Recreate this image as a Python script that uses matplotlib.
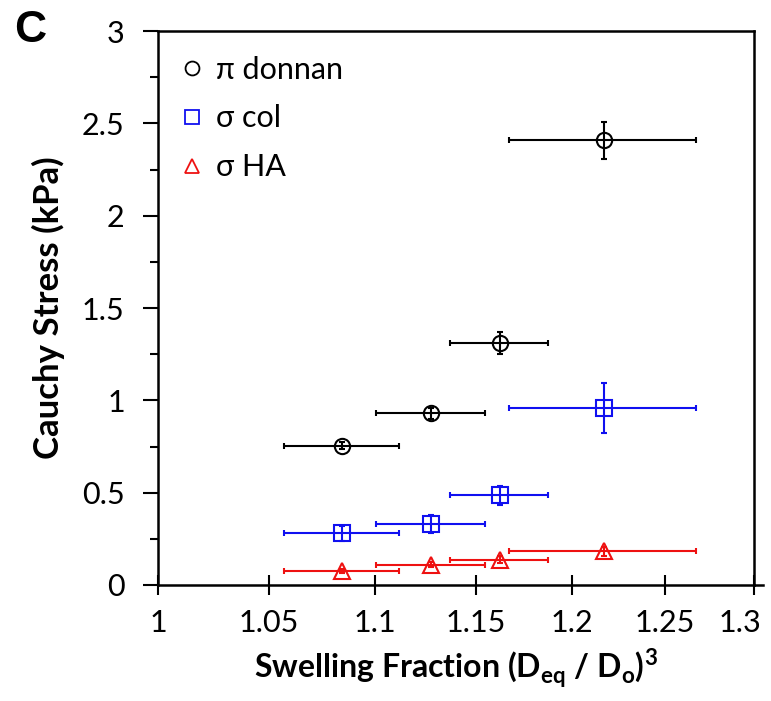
import numpy as np
import matplotlib
matplotlib.use("Agg")
import matplotlib.pyplot as plt
from matplotlib.lines import Line2D
from matplotlib.ticker import FixedLocator, NullLocator, MultipleLocator
from matplotlib.transforms import ScaledTranslation

plt.rcParams['font.family'] = ['Lato', 'DejaVu Sans']
plt.rcParams['mathtext.fontset'] = 'custom'
plt.rcParams['mathtext.rm'] = 'Lato'
plt.rcParams['mathtext.bf'] = 'Lato:bold'

#%% data
swelling = [1.0845, 1.1276, 1.1623, 1.217]
swelling_err = [0.0275, 0.027, 0.025, 0.05]

donnan = [0.755, 0.93, 1.31, 2.41]
donnan_err = [0.018, 0.03, 0.06, 0.1]

col = [0.28, 0.33, 0.485, 0.96]
col_err = [0.04, 0.048, 0.05, 0.135]

ha = [0.075, 0.11, 0.138, 0.182]
ha_err = [0.012, 0.015, 0.02, 0.025]

xticks = [1, 1.05, 1.1, 1.15, 1.2, 1.25, 1.3]
xticklabels = ["1", "1.05", "1.1", "1.15", "1.2", "1.25", "1.3"]
yticks = [0, 0.5, 1, 1.5, 2, 2.5, 3]
yticklabels = ["0", "0.5", "1", "1.5", "2", "2.5", "3"]

#%%
fig = plt.figure(figsize=(7.71, 7.01), dpi=100)
ax = fig.add_axes([0.205, 0.1655, 0.773, 0.790])

series = [(donnan, donnan_err, "o", "black", "\u03c0 donnan"),
          (col, col_err, "s", "#1010f0", "\u03c3 col"),
          (ha, ha_err, "^", "#ee1111", "\u03c3 HA")]

for y, yerr, mk, colr, lab in series:
    ax.errorbar(swelling, y, xerr=swelling_err, yerr=yerr, fmt=mk, color=colr,
                mfc="none", mec=colr, ms=11, mew=1.5, elinewidth=1.5,
                capsize=2, capthick=1.2)

ax.set_xscale("log")
ax.set_xlim(1, 1.3)
ax.set_ylim(0, 3)
ax.xaxis.set_major_locator(FixedLocator(xticks))
ax.xaxis.set_minor_locator(NullLocator())
ax.set_xticklabels(xticklabels)
ax.set_yticks(yticks)
ax.set_yticklabels(yticklabels)
ax.yaxis.set_minor_locator(MultipleLocator(0.25))

for s in ax.spines.values():
    s.set_linewidth(1.8)
# x axis line sticks out a bit past the right spine
ax.plot([1, 1.015], [0, 0], color="black", lw=1.8, transform=ax.transAxes, clip_on=False)

ax.tick_params(axis="x", which="both", direction="inout", length=14, width=1.5,
               labelsize=22, pad=10)
ax.tick_params(axis="y", which="major", direction="out", length=11, width=1.5,
               labelsize=22, pad=13)
ax.tick_params(axis="y", which="minor", direction="out", length=6, width=1.5)

# last x label sits a little left of its tick, as in the original
lbl = ax.get_xticklabels()[-1]
lbl.set_transform(lbl.get_transform() + ScaledTranslation(-10/72, 0, fig.dpi_scale_trans))

ax.set_xlabel(r"Swelling Fraction (D$_{\mathbf{eq}}$ / D$_{\mathbf{o}}$)$^{\mathbf{3}}$",
              fontsize=23, fontweight="bold", labelpad=7)
ax.set_ylabel("Cauchy Stress (kPa)", fontsize=25, fontweight="bold", labelpad=12)

handles = [Line2D([], [], ls="none", marker=mk, mfc="none", mec=colr, ms=10, mew=1.3)
           for _, _, mk, colr, _ in series]
ax.legend(handles, [s[4] for s in series], loc="upper left", frameon=False,
          fontsize=22, handlelength=0.6, handletextpad=0.5, labelspacing=0.68,
          borderaxespad=0.4)

fig.text(0.018, 0.956, "C", fontsize=32, fontweight="bold", va="center",
         family="Liberation Sans")

plt.savefig("out.png", dpi=100)
